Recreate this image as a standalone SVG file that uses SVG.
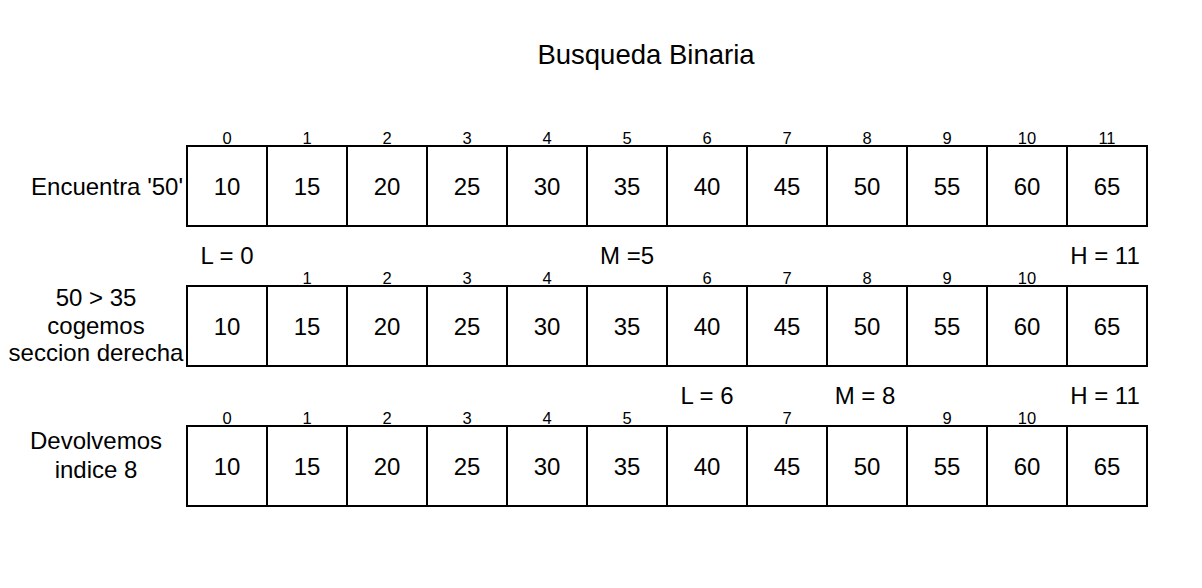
<svg xmlns="http://www.w3.org/2000/svg" width="1202" height="588" viewBox="0 0 1202 588">
<style>
text{font-family:"Liberation Sans",Arial,Helvetica,sans-serif;fill:#000}
.cell rect{fill:#fff;stroke:#000;stroke-width:2}
.v{font-size:24px;text-anchor:middle}
.lbl{font-size:24px;text-anchor:middle}
.t{font-size:27.5px;text-anchor:middle}
.ix text{font-size:16.5px;text-anchor:middle}
</style>
<rect width="1202" height="588" fill="#fff"/>
<g id="title"><text class="t" x="646" y="64">Busqueda Binaria</text></g>
<g id="connectors"/>

<g id="row1-label"><text class="lbl" x="183" y="195" style="text-anchor:end">Encuentra '50'</text></g>
<g id="row1" class="cell">
<g id="r1c0"><rect x="187" y="146" width="80" height="80"/><text class="v" x="227" y="195">10</text></g>
<g id="r1c1"><rect x="267" y="146" width="80" height="80"/><text class="v" x="307" y="195">15</text></g>
<g id="r1c2"><rect x="347" y="146" width="80" height="80"/><text class="v" x="387" y="195">20</text></g>
<g id="r1c3"><rect x="427" y="146" width="80" height="80"/><text class="v" x="467" y="195">25</text></g>
<g id="r1c4"><rect x="507" y="146" width="80" height="80"/><text class="v" x="547" y="195">30</text></g>
<g id="r1c5"><rect x="587" y="146" width="80" height="80"/><text class="v" x="627" y="195">35</text></g>
<g id="r1c6"><rect x="667" y="146" width="80" height="80"/><text class="v" x="707" y="195">40</text></g>
<g id="r1c7"><rect x="747" y="146" width="80" height="80"/><text class="v" x="787" y="195">45</text></g>
<g id="r1c8"><rect x="827" y="146" width="80" height="80"/><text class="v" x="867" y="195">50</text></g>
<g id="r1c9"><rect x="907" y="146" width="80" height="80"/><text class="v" x="947" y="195">55</text></g>
<g id="r1c10"><rect x="987" y="146" width="80" height="80"/><text class="v" x="1027" y="195">60</text></g>
<g id="r1c11"><rect x="1067" y="146" width="80" height="80"/><text class="v" x="1107" y="195">65</text></g>
</g>
<g id="row1-indices" class="ix">
<text x="227" y="144">0</text><text x="307" y="144">1</text><text x="387" y="144">2</text><text x="467" y="144">3</text><text x="547" y="144">4</text><text x="627" y="144">5</text><text x="707" y="144">6</text><text x="787" y="144">7</text><text x="867" y="144">8</text><text x="947" y="144">9</text><text x="1027" y="144">10</text><text x="1107" y="144">11</text>
</g>

<g id="row2-pointers">
<text class="lbl" x="227" y="264">L = 0</text>
<text class="lbl" x="627" y="264">M =5</text>
<text class="lbl" x="1105" y="264">H = 11</text>
</g>
<g id="row2-label"><text class="lbl" x="96" y="306">50 &gt; 35</text><text class="lbl" x="96" y="333.5">cogemos</text><text class="lbl" x="96" y="361">seccion derecha</text></g>
<g id="row2" class="cell">
<g id="r2c0"><rect x="187" y="286" width="80" height="80"/><text class="v" x="227" y="335">10</text></g>
<g id="r2c1"><rect x="267" y="286" width="80" height="80"/><text class="v" x="307" y="335">15</text></g>
<g id="r2c2"><rect x="347" y="286" width="80" height="80"/><text class="v" x="387" y="335">20</text></g>
<g id="r2c3"><rect x="427" y="286" width="80" height="80"/><text class="v" x="467" y="335">25</text></g>
<g id="r2c4"><rect x="507" y="286" width="80" height="80"/><text class="v" x="547" y="335">30</text></g>
<g id="r2c5"><rect x="587" y="286" width="80" height="80"/><text class="v" x="627" y="335">35</text></g>
<g id="r2c6"><rect x="667" y="286" width="80" height="80"/><text class="v" x="707" y="335">40</text></g>
<g id="r2c7"><rect x="747" y="286" width="80" height="80"/><text class="v" x="787" y="335">45</text></g>
<g id="r2c8"><rect x="827" y="286" width="80" height="80"/><text class="v" x="867" y="335">50</text></g>
<g id="r2c9"><rect x="907" y="286" width="80" height="80"/><text class="v" x="947" y="335">55</text></g>
<g id="r2c10"><rect x="987" y="286" width="80" height="80"/><text class="v" x="1027" y="335">60</text></g>
<g id="r2c11"><rect x="1067" y="286" width="80" height="80"/><text class="v" x="1107" y="335">65</text></g>
</g>
<g id="row2-indices" class="ix">
<text x="307" y="284">1</text><text x="387" y="284">2</text><text x="467" y="284">3</text><text x="547" y="284">4</text><text x="707" y="284">6</text><text x="787" y="284">7</text><text x="867" y="284">8</text><text x="947" y="284">9</text><text x="1027" y="284">10</text>
</g>

<g id="row3-pointers">
<text class="lbl" x="707" y="404">L = 6</text>
<text class="lbl" x="865" y="404">M = 8</text>
<text class="lbl" x="1105" y="404">H = 11</text>
</g>
<g id="row3-label"><text class="lbl" x="96" y="449">Devolvemos</text><text class="lbl" x="96" y="478">indice 8</text></g>
<g id="row3" class="cell">
<g id="r3c0"><rect x="187" y="426" width="80" height="80"/><text class="v" x="227" y="475">10</text></g>
<g id="r3c1"><rect x="267" y="426" width="80" height="80"/><text class="v" x="307" y="475">15</text></g>
<g id="r3c2"><rect x="347" y="426" width="80" height="80"/><text class="v" x="387" y="475">20</text></g>
<g id="r3c3"><rect x="427" y="426" width="80" height="80"/><text class="v" x="467" y="475">25</text></g>
<g id="r3c4"><rect x="507" y="426" width="80" height="80"/><text class="v" x="547" y="475">30</text></g>
<g id="r3c5"><rect x="587" y="426" width="80" height="80"/><text class="v" x="627" y="475">35</text></g>
<g id="r3c6"><rect x="667" y="426" width="80" height="80"/><text class="v" x="707" y="475">40</text></g>
<g id="r3c7"><rect x="747" y="426" width="80" height="80"/><text class="v" x="787" y="475">45</text></g>
<g id="r3c8"><rect x="827" y="426" width="80" height="80"/><text class="v" x="867" y="475">50</text></g>
<g id="r3c9"><rect x="907" y="426" width="80" height="80"/><text class="v" x="947" y="475">55</text></g>
<g id="r3c10"><rect x="987" y="426" width="80" height="80"/><text class="v" x="1027" y="475">60</text></g>
<g id="r3c11"><rect x="1067" y="426" width="80" height="80"/><text class="v" x="1107" y="475">65</text></g>
</g>
<g id="row3-indices" class="ix">
<text x="227" y="424">0</text><text x="307" y="424">1</text><text x="387" y="424">2</text><text x="467" y="424">3</text><text x="547" y="424">4</text><text x="627" y="424">5</text><text x="787" y="424">7</text><text x="947" y="424">9</text><text x="1027" y="424">10</text>
</g>
</svg>
